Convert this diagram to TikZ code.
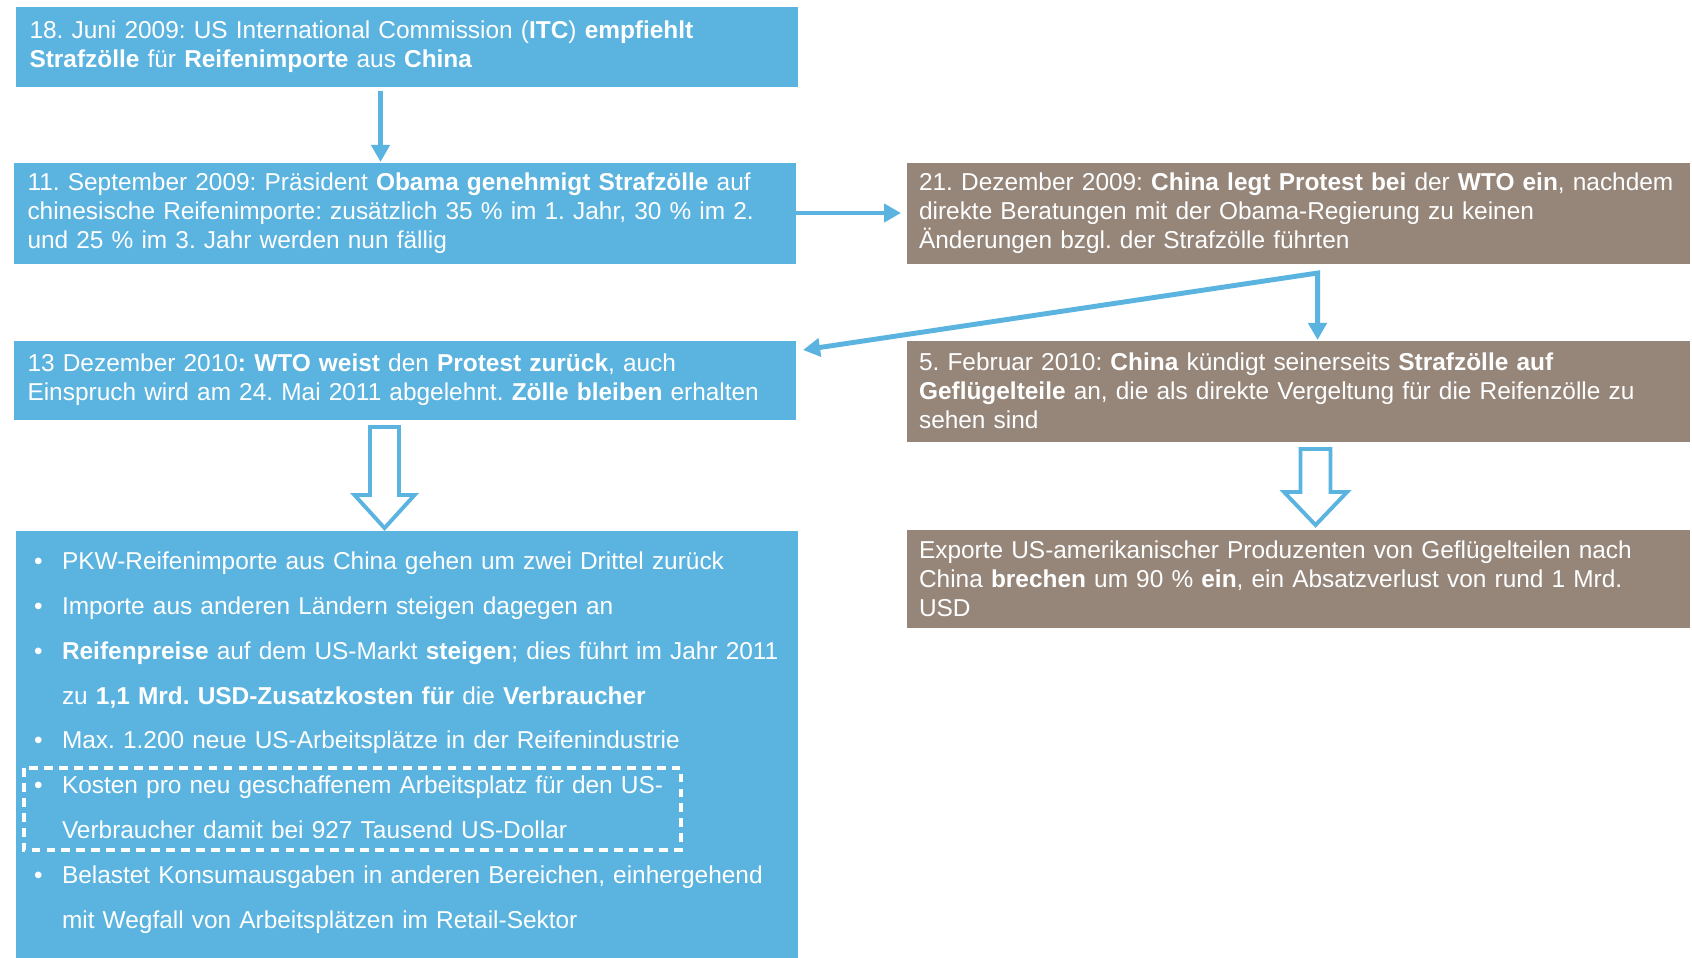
\documentclass[tikz,border=0pt]{standalone}
\usepackage{fontspec}
\setmainfont{Liberation Sans}
\usepackage{tikz}
\usetikzlibrary{arrows.meta}
\usepackage{tkz-euclide}
\definecolor{zollblau}{RGB}{91,179,223}
\definecolor{zollbraun}{RGB}{150,134,122}
\frenchspacing
\hyphenpenalty=10000
\exhyphenpenalty=10000
\newcommand{\pkt}{\hspace*{0.1cm}\makebox[0.56cm][l]{\textbullet}}
\newcommand{\einr}{\hspace*{0.66cm}}

\begin{document}
\begin{tikzpicture}[semithick,>={Triangle[length=0.34cm,width=0.36cm]},
  kasten/.style={anchor=north west,inner xsep=0.28cm,inner ysep=0pt,align=left,text=white,
    font=\fontsize{13.9pt}{16.5pt}\selectfont},
  blaukasten/.style={kasten,fill=zollblau},
  braunkasten/.style={kasten,fill=zollbraun,inner xsep=0.25cm},
  pfeil/.style={draw=zollblau,line width=2.8pt,->},
  hohlpfeil/.style={draw=zollblau,line width=2.2pt,fill=white,line join=miter},
  rahmen/.style={draw=white,line width=2pt,dash pattern=on 5pt off 3.5pt}]
\useasboundingbox (0,0) rectangle (33.84,19.14);
\tkzDefPoints{0.30/19.02/E1,0.26/15.90/E2,18.12/15.90/E3,0.26/12.34/E4,18.12/12.34/E5,0.30/8.54/E6,18.12/8.56/E7}
% linke Spalte
\node[blaukasten,text width=15.08cm,minimum height=1.60cm] (juni) at (E1)
  {18. Juni 2009: US International Commission (\textbf{ITC}) \textbf{empfiehlt}\\
   \textbf{Strafzölle} für \textbf{Reifenimporte} aus \textbf{China}};
\node[blaukasten,text width=15.08cm,minimum height=2.02cm] (september) at (E2)
  {11. September 2009: Präsident \textbf{Obama genehmigt Strafzölle} auf\\
   chinesische Reifenimporte: zusätzlich 35 \% im 1. Jahr, 30 \% im 2.\\
   und 25 \% im 3. Jahr werden nun fällig};
\node[blaukasten,text width=15.08cm,minimum height=1.58cm] (wto) at (E4)
  {13 Dezember 2010\textbf{: WTO weist} den \textbf{Protest zurück}, auch\\
   Einspruch wird am 24. Mai 2011 abgelehnt. \textbf{Zölle bleiben} erhalten};
\node[blaukasten,inner xsep=0.27cm,text width=15.1cm,minimum height=8.78cm,
  font=\fontsize{13.9pt}{25.5pt}\selectfont] (folgen) at (E6)
  {\pkt PKW-Reifenimporte aus China gehen um zwei Drittel zurück\\
   \pkt Importe aus anderen Ländern steigen dagegen an\\
   \pkt\textbf{Reifenpreise} auf dem US-Markt \textbf{steigen}; dies führt im Jahr 2011\\
   \einr zu \textbf{1,1 Mrd. USD-Zusatzkosten für} die \textbf{Verbraucher}\\
   \pkt Max. 1.200 neue US-Arbeitsplätze in der Reifenindustrie\\
   \pkt Kosten pro neu geschaffenem Arbeitsplatz für den US-\\
   \einr Verbraucher damit bei 927 Tausend US-Dollar\\
   \pkt Belastet Konsumausgaben in anderen Bereichen, einhergehend\\
   \einr mit Wegfall von Arbeitsplätzen im Retail-Sektor\rule[-0.4cm]{0pt}{0pt}};
% rechte Spalte
\node[braunkasten,text width=15.16cm,minimum height=2.02cm] (dezember) at (E3)
  {21. Dezember 2009: \textbf{China legt Protest bei} der \textbf{WTO ein}, nachdem\\
   direkte Beratungen mit der Obama-Regierung zu keinen\\
   Änderungen bzgl. der Strafzölle führten};
\node[braunkasten,text width=15.16cm,minimum height=2.02cm] (februar) at (E5)
  {5. Februar 2010: \textbf{China} kündigt seinerseits \textbf{Strafzölle auf}\\
   \textbf{Geflügelteile} an, die als direkte Vergeltung für die Reifenzölle zu\\
   sehen sind};
\node[braunkasten,text width=15.16cm,minimum height=1.96cm] (exporte) at (E7)
  {Exporte US-amerikanischer Produzenten von Geflügelteilen nach\\
   China \textbf{brechen} um 90 \% \textbf{ein}, ein Absatzverlust von rund 1 Mrd.\\
   USD};
% Pfeile
\coordinate (start) at ([xshift=-0.52cm,yshift=-0.08cm]juni.south);
\draw[pfeil] (start) -- (start |- september.north);
\coordinate (ziel) at (september.east -| dezember.west);
\draw[pfeil] (september.east) -- ([xshift=-0.1cm]ziel);
\coordinate (gabel) at ([xshift=0.39cm,yshift=-0.18cm]dezember.south);
\draw[pfeil,<->]
  ([xshift=0.14cm,yshift=-0.20cm]wto.north east) -- (gabel) -- (gabel |- februar.north);
\draw[hohlpfeil] ([xshift=-0.40cm,yshift=-0.14cm]wto.south) ++(-0.29,0) -- ++(0.58,0) -- ++(0,-1.36)
  -- ++(0.31,0) -- ++(-0.60,-0.66) -- ++(-0.60,0.66) -- ++(0.31,0) -- cycle;
\draw[hohlpfeil] ([xshift=0.35cm,yshift=-0.14cm]februar.south) ++(-0.30,0) -- ++(0.60,0) -- ++(0,-0.86)
  -- ++(0.33,0) -- ++(-0.63,-0.66) -- ++(-0.63,0.66) -- ++(0.33,0) -- cycle;
\draw[rahmen] (0.48,3.78) rectangle (13.62,2.14);
\end{tikzpicture}
\end{document}
